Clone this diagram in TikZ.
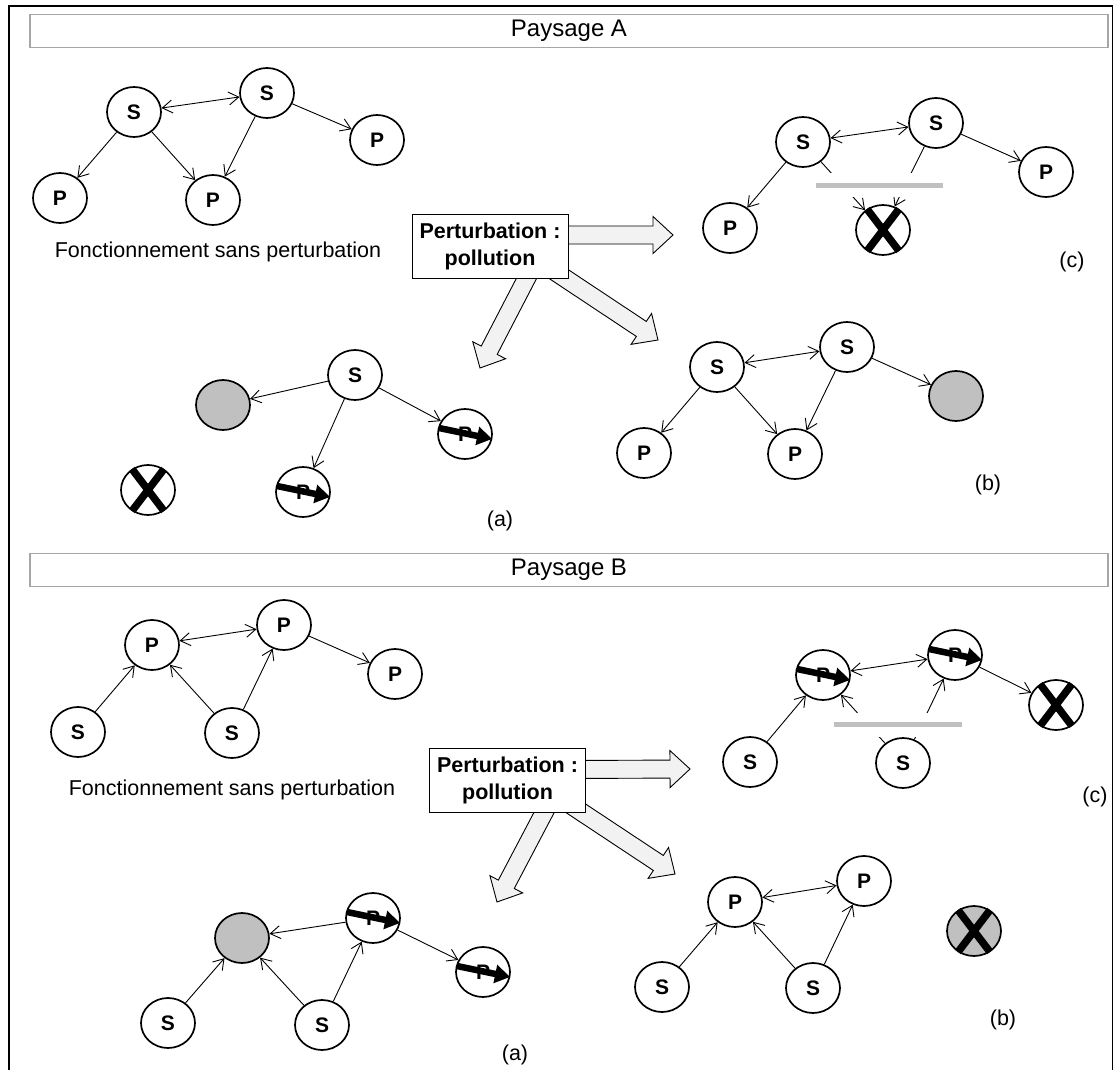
\documentclass[tikz,border=0pt]{standalone}
\usepackage{fontspec}
\setmainfont{Liberation Sans}
\usetikzlibrary{arrows.meta,calc,shapes.geometric}
\definecolor{gfill}{HTML}{C0C0C0}
\definecolor{bfill}{HTML}{F2F2F2}
\definecolor{tborder}{HTML}{A6A6A6}
\newcommand\blockarrow[3]{%
  \coordinate (#3h) at ($(#2)!20pt!(#1)$);
  \draw[blk] ($(#1)!9pt!90:(#2)$) -- ($(#3h)!9pt!-90:(#1)$) -- ($(#3h)!18.5pt!-90:(#1)$) -- (#2)
    -- ($(#3h)!18.5pt!90:(#1)$) -- ($(#3h)!9pt!90:(#1)$) -- ($(#1)!9pt!-90:(#2)$) -- cycle;}
\newcommand\thickin[1]{\draw[thickarr] ($(#1.center)+(-26,-6)$) -- ($(#1.center)+(27,5)$);}
\newcommand\crossin[1]{\draw[crossline] ($(#1.center)+(-16,-21)$) -- ($(#1.center)+(16,21)$);
  \draw[crossline] ($(#1.center)+(16,-21)$) -- ($(#1.center)+(-16,21)$);}
\begin{document}
\begin{tikzpicture}[x=1pt,y=-1pt,
  txt/.style={font=\fontsize{21.5}{25}\selectfont,inner sep=0pt},
  nd/.style={ellipse,draw,line width=1.7pt,fill=white,minimum width=54pt,minimum height=50pt,inner sep=0pt,font=\fontsize{21}{24}\selectfont\bfseries},
  gnd/.style={nd,fill=gfill},
  conn/.style={line width=0.9pt,-{Straight Barb[length=10pt,width=13pt]}},
  bconn/.style={line width=0.9pt,{Straight Barb[length=10pt,width=13pt]}-{Straight Barb[length=10pt,width=13pt]}},
  thickarr/.style={line width=6.5pt,-{Triangle[length=15pt,width=18pt]}},
  crossline/.style={line width=7.5pt},
  cutbar/.style={line width=5pt,draw=gfill},
  pbox/.style={draw,line width=1pt,fill=white,minimum width=156pt,minimum height=64pt,inner sep=0pt,align=center,font=\fontsize{21.5}{27}\selectfont\bfseries},
  tbox/.style={draw=tborder,line width=1.2pt,fill=white,minimum width=1078pt,minimum height=33pt,inner sep=0pt,font=\fontsize{24}{27}\selectfont},
  blk/.style={draw,line width=0.9pt,fill=bfill,line join=miter}
]
\useasboundingbox (0,0) rectangle (1114,1070);
\fill[white] (0,0) rectangle (1114,1070);
% outer frame
\draw[line width=1.3pt] (9,1080) -- (9,6) -- (1112.5,6) -- (1112.5,1080);

% ================= Paysage A =================
\node[tbox] (tA) at (569,31) {Paysage A};

% undisturbed network
\node[nd] (as1) at (134,112) {S};
\node[nd] (as2) at (267,93) {S};
\node[nd] (ap3) at (377,140) {P};
\node[nd] (ap1) at (60,198) {P};
\node[nd] (ap2) at (213,200) {P};
\draw[bconn] (as1) -- (as2);
\draw[conn] (as2) -- (ap3);
\draw[conn] (as1) -- (ap1);
\draw[conn] (as1) -- (ap2);
\draw[conn] (as2) -- (ap2);
\node[txt] (afsp) at (218,252) {Fonctionnement sans perturbation};

% perturbation box + block arrows
\coordinate (pAc) at (490,246);
\coordinate (aRs) at ($(pAc)+(60,-11)$);
\coordinate (aRt) at (673,235);
\coordinate (aDRs) at ($(pAc)+(55,19)$);
\coordinate (aDRt) at (658,340);
\coordinate (aDLs) at ($(pAc)+(45,16)$);
\coordinate (aDLt) at (480,368);
\blockarrow{aRs}{aRt}{aR}
\blockarrow{aDRs}{aDRt}{aDR}
\blockarrow{aDLs}{aDLt}{aDL}
\node[pbox] (pA) at (pAc) {Perturbation :\\pollution};

% (c)
\node[nd] (cs1) at (803,142) {S};
\node[nd] (cs2) at (936,123) {S};
\node[nd] (cp3) at (1046,172) {P};
\node[nd] (cp1) at (730,228) {P};
\node[nd] (cx) at (883,230) {};
\draw[bconn] (cs1) -- (cs2);
\draw[conn] (cs2) -- (cp3);
\draw[conn] (cs1) -- (cp1);
\draw[conn] (cs1) -- (cx);
\draw[conn] (cs2) -- (cx);
\fill[white] (812,173) rectangle (947,197);
\draw[cutbar] (816,185) -- (943,185);
\crossin{cx}
\node[txt] (lAc) at (1072,262) {(c)};

% (a)
\node[nd] (as) at (355,375) {S};
\node[gnd] (ag) at (223,405) {};
\node[nd] (apa) at (465,434) {P};
\node[nd] (apb) at (303,492) {P};
\node[nd] (ax) at (148,490) {};
\draw[conn] (as) -- (ag);
\draw[conn] (as) -- (apa);
\draw[conn] (as) -- (apb);
\thickin{apa}
\thickin{apb}
\crossin{ax}
\node[txt] (lAa) at (500,521) {(a)};

% (b)
\node[nd] (bs1) at (717,367) {S};
\node[nd] (bs2) at (847,347) {S};
\node[gnd] (bg) at (956,396) {};
\node[nd] (bp1) at (644,453) {P};
\node[nd] (bp2) at (795,454) {P};
\draw[bconn] (bs1) -- (bs2);
\draw[conn] (bs2) -- (bg);
\draw[conn] (bs1) -- (bp1);
\draw[conn] (bs1) -- (bp2);
\draw[conn] (bs2) -- (bp2);
\node[txt] (lAb) at (988,485) {(b)};

% ================= Paysage B =================
\node[tbox] (tB) at (569,570) {Paysage B};

\node[nd] (Bp1) at (152,645) {P};
\node[nd] (Bp2) at (284,625) {P};
\node[nd] (Bp3) at (395,674) {P};
\node[nd] (Bs1) at (78,732) {S};
\node[nd] (Bs2) at (232,733) {S};
\draw[bconn] (Bp1) -- (Bp2);
\draw[conn] (Bp2) -- (Bp3);
\draw[conn] (Bs1) -- (Bp1);
\draw[conn] (Bs2) -- (Bp1);
\draw[conn] (Bs2) -- (Bp2);
\node[txt] (bfsp) at (232,790) {Fonctionnement sans perturbation};

\coordinate (pBc) at (507.5,780.5);
\coordinate (bRs) at ($(pBc)+(60,-11)$);
\coordinate (bRt) at (690,769);
\coordinate (bDRs) at ($(pBc)+(55,19)$);
\coordinate (bDRt) at (675,874);
\coordinate (bDLs) at ($(pBc)+(45,16)$);
\coordinate (bDLt) at (497,902);
\blockarrow{bRs}{bRt}{bR}
\blockarrow{bDRs}{bDRt}{bDR}
\blockarrow{bDLs}{bDLt}{bDL}
\node[pbox] (pB) at (pBc) {Perturbation :\\pollution};

% (c)
\node[nd] (Cp1) at (823,675) {P};
\node[nd] (Cp2) at (955,655) {P};
\node[nd] (Cx) at (1056,705) {};
\node[nd] (Cs1) at (750,762) {S};
\node[nd] (Cs2) at (903,763) {S};
\draw[bconn] (Cp1) -- (Cp2);
\draw[conn] (Cp2) -- (Cx);
\draw[conn] (Cs1) -- (Cp1);
\draw[conn] (Cs2) -- (Cp1);
\draw[conn] (Cs2) -- (Cp2);
\fill[white] (830,713) rectangle (966,737);
\draw[cutbar] (834,724) -- (962,724);
\thickin{Cp1}
\thickin{Cp2}
\crossin{Cx}
\node[txt] (lBc) at (1095,797) {(c)};

% (a)
\node[gnd] (Ag) at (242,938) {};
\node[nd] (Apa) at (373,918) {P};
\node[nd] (Apb) at (483,972) {P};
\node[nd] (As1) at (168,1023) {S};
\node[nd] (As2) at (322,1025) {S};
\draw[conn] (Apa) -- (Ag);
\draw[conn] (Apa) -- (Apb);
\draw[conn] (As1) -- (Ag);
\draw[conn] (As2) -- (Ag);
\draw[conn] (As2) -- (Apa);
\thickin{Apa}
\thickin{Apb}
\node[txt] (lBa) at (515,1055) {(a)};

% (b)
\node[nd] (Dp1) at (735,902) {P};
\node[nd] (Dp2) at (864,881) {P};
\node[nd] (Ds1) at (662,987) {S};
\node[nd] (Ds2) at (813,988) {S};
\node[gnd] (Dx) at (974,931) {};
\draw[bconn] (Dp1) -- (Dp2);
\draw[conn] (Ds1) -- (Dp1);
\draw[conn] (Ds2) -- (Dp1);
\draw[conn] (Ds2) -- (Dp2);
\crossin{Dx}
\node[txt] (lBb) at (1003,1020) {(b)};
\end{tikzpicture}
\end{document}
